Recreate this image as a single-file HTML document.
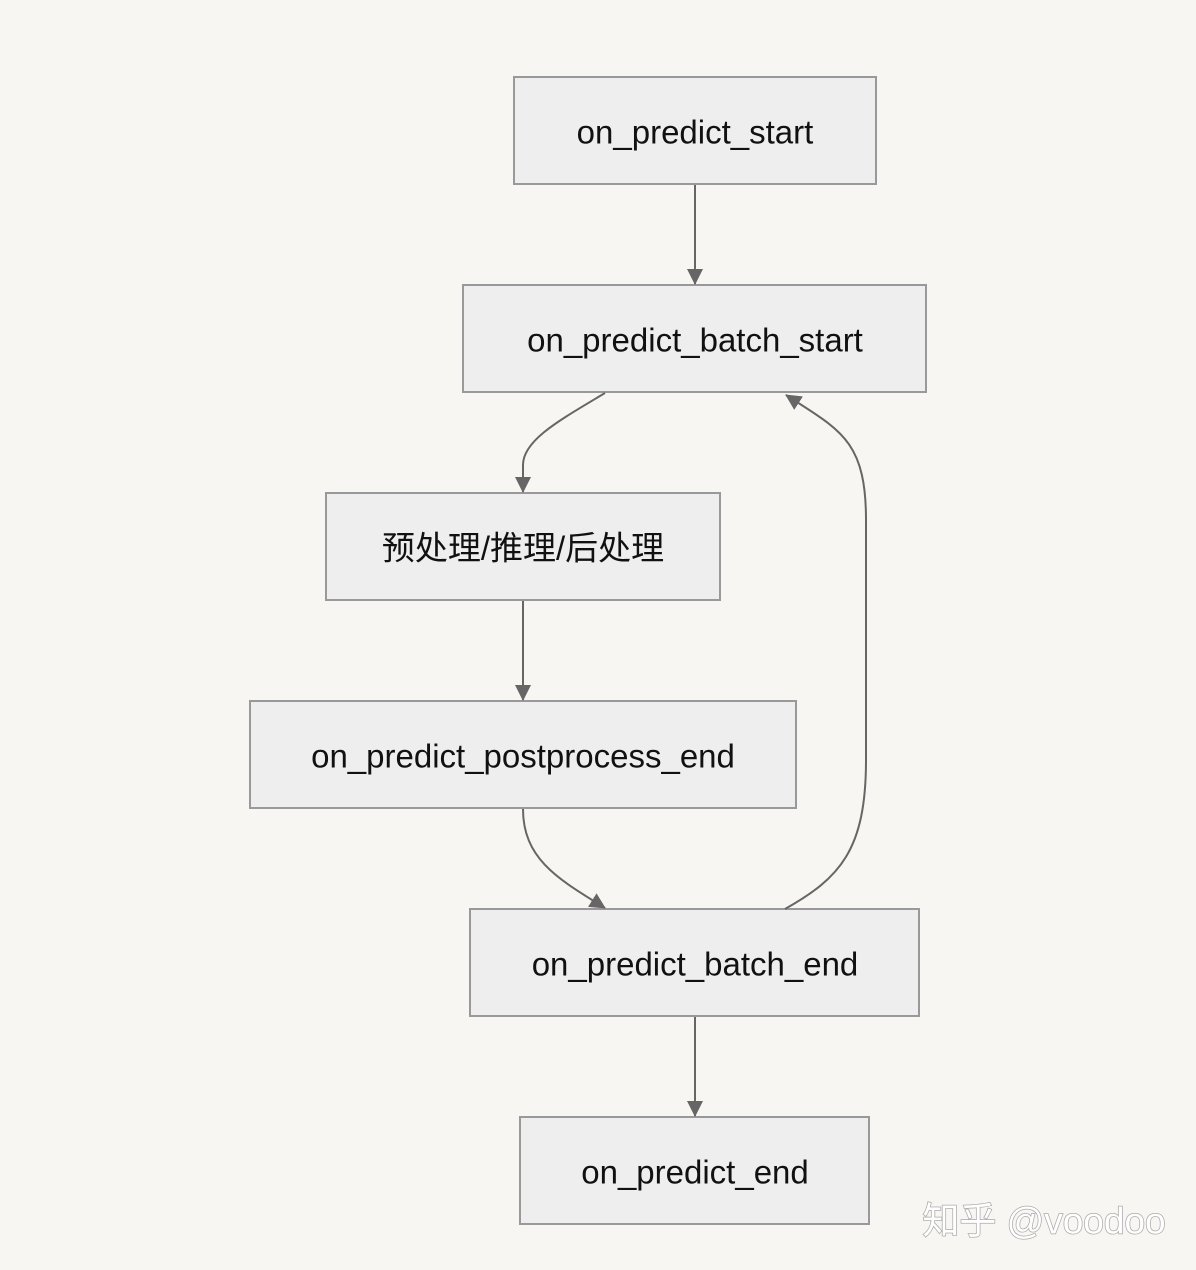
<!DOCTYPE html>
<html><head><meta charset="utf-8"><style>
html,body{margin:0;padding:0;background:#f7f6f2;}
svg{display:block}
text{font-family:"Liberation Sans","Noto Sans CJK SC",sans-serif;font-size:33px;fill:#111;text-anchor:middle;dominant-baseline:central}
</style></head><body>
<svg width="1196" height="1270" viewBox="0 0 1196 1270" xmlns="http://www.w3.org/2000/svg">
<rect width="1196" height="1270" fill="#f7f6f2"/>
<defs>
<marker id="b" markerWidth="16" markerHeight="16" refX="15" refY="8" orient="auto" markerUnits="userSpaceOnUse" viewBox="0 0 16 16"><path d="M0,0 L16,8 L0,16 z" fill="#666"/></marker></defs>
<g fill="#eeeeee" stroke="#999" stroke-width="2">
<rect x="514" y="77" width="362" height="107"/>
<rect x="463" y="285" width="463" height="107"/>
<rect x="326" y="493" width="394" height="107"/>
<rect x="250" y="701" width="546" height="107"/>
<rect x="470" y="909" width="449" height="107"/>
<rect x="520" y="1117" width="349" height="107"/>
</g>
<g fill="none" stroke="#666" stroke-width="2">
<path d="M695 185 L695 284" marker-end="url(#b)"/>
<path d="M605 393 C560 420 523 440 523 465 L523 492" marker-end="url(#b)"/>
<path d="M523 601 L523 700" marker-end="url(#b)"/>
<path d="M523 809 C523 860 560 880 605 908" marker-end="url(#b)"/>
<path d="M785 909 C840 878 866 850 866 760 L866 520 C866 440 840 430 786 395" marker-end="url(#b)"/>
<path d="M695 1017 L695 1116" marker-end="url(#b)"/>
</g>
<text x="695" y="132">on_predict_start</text>
<text x="695" y="340">on_predict_batch_start</text>
<text x="523" y="548">预处理/推理/后处理</text>
<text x="523" y="756">on_predict_postprocess_end</text>
<text x="695" y="964">on_predict_batch_end</text>
<text x="695" y="1172">on_predict_end</text>
<text x="1044" y="1221" style="font-size:37px;fill:#fff;stroke:#aaa;stroke-width:1.5;paint-order:stroke">知乎 @voodoo</text>
</svg>
</body></html>
